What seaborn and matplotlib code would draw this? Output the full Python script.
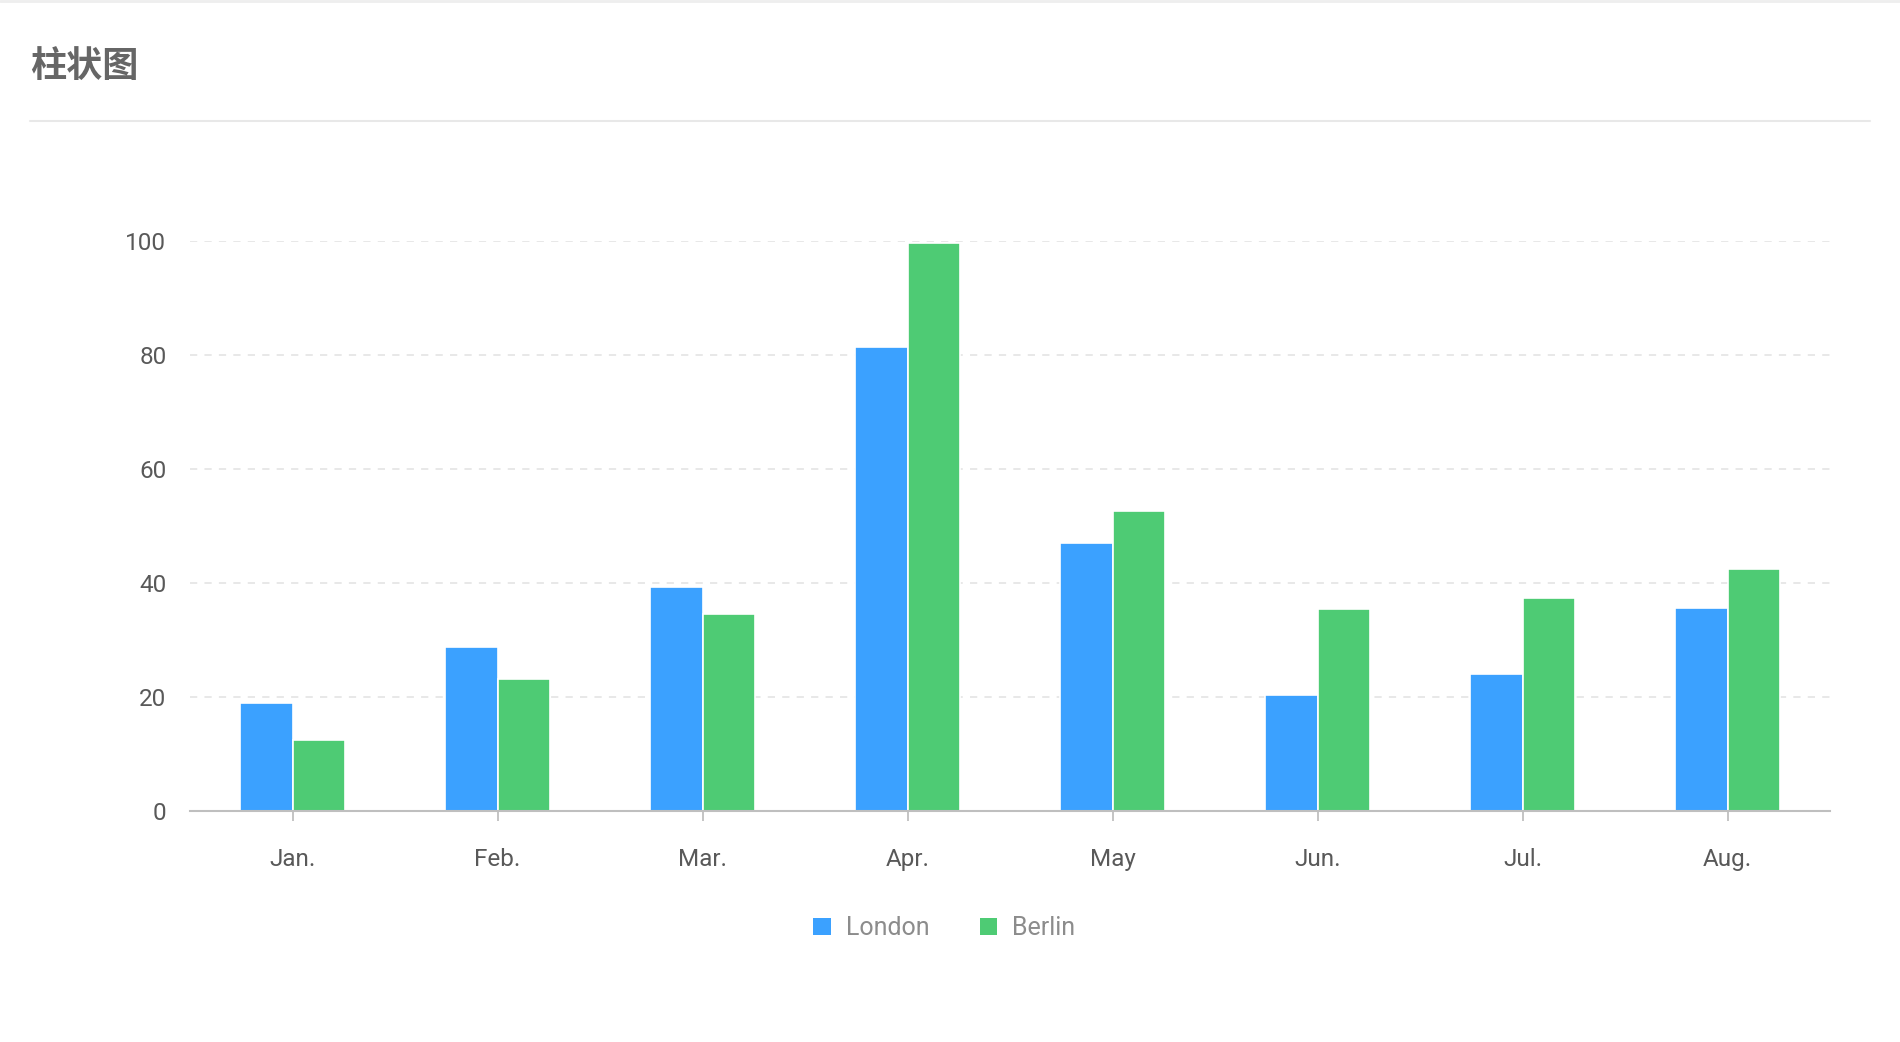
import matplotlib
matplotlib.use("Agg")
import matplotlib.pyplot as plt
import seaborn as sns
import pandas as pd
from matplotlib.patches import Patch
from matplotlib.lines import Line2D

months = ["Jan.", "Feb.", "Mar.", "Apr.", "May", "Jun.", "Jul.", "Aug."]
london = [18.9, 28.8, 39.3, 81.4, 47, 20.3, 24, 35.6]
berlin = [12.4, 23.2, 34.5, 99.7, 52.6, 35.5, 37.4, 42.4]
series = ["London", "Berlin"]
colors = ["#3BA1FF", "#4ECB74"]
yticks = [0, 20, 40, 60, 80, 100]
title = "柱状图"

df = pd.DataFrame({
    "month": months * 2,
    "value": london + berlin,
    "city": ["London"] * len(months) + ["Berlin"] * len(months),
})

sns.set_theme(style="white")
plt.rcParams["font.family"] = ["Roboto", "DejaVu Sans"]

fig = plt.figure(figsize=(19, 10.42), dpi=100)
ax = fig.add_axes([0.1, 0.2217, 0.8632, 0.547])

sns.barplot(data=df, x="month", y="value", hue="city", order=months,
            hue_order=series, palette=colors, width=0.51, saturation=1,
            edgecolor="white", linewidth=1.2, legend=False, ax=ax)

ax.set_xlim(-0.5, len(months) - 0.5)
ax.set_ylim(0, 100)
ax.set_yticks(yticks)
ax.set_xlabel("")
ax.set_ylabel("")
for y in yticks[1:]:
    ax.axhline(y, color="#e6e6e6", lw=1.3, ls=(0, (4, 4)), zorder=0)
for s in ["top", "right", "left"]:
    ax.spines[s].set_visible(False)
ax.spines["bottom"].set_color("#bfbfbf")
ax.spines["bottom"].set_linewidth(1.5)
ax.tick_params(axis="x", length=7, width=1.3, color="#bfbfbf", pad=20,
               labelsize=17.5, labelcolor="#595959", bottom=True)
ax.tick_params(axis="y", length=0, pad=17, labelsize=17.5, labelcolor="#595959", left=False)
for sp in ax.patches:
    sp.set_clip_on(False)

# title and separator
fig.text(30 / 1900, 1 - 67 / 1042, title, fontsize=26, color="#666666",
         va="center", ha="left", family=["Noto Sans CJK SC", "DejaVu Sans"],
         fontweight="bold")
fig.add_artist(Line2D([30 / 1900, 1870 / 1900], [1 - 121 / 1042] * 2,
                      color="#e8e8e8", lw=1.5))
fig.add_artist(Line2D([0, 1], [1 - 1 / 1042] * 2, color="#eeeeee", lw=2))

handles = [Patch(facecolor=c, edgecolor="none", label=s) for c, s in zip(colors, series)]
fig.legend(handles=handles, loc="center", bbox_to_anchor=(0.497, 1 - 928 / 1042),
           ncol=2, frameon=False, fontsize=18, labelcolor="#8c8c8c",
           handlelength=0.7, handleheight=0.7, handletextpad=0.6,
           columnspacing=2.0)

fig.savefig("out.png", dpi=100, facecolor="white")
